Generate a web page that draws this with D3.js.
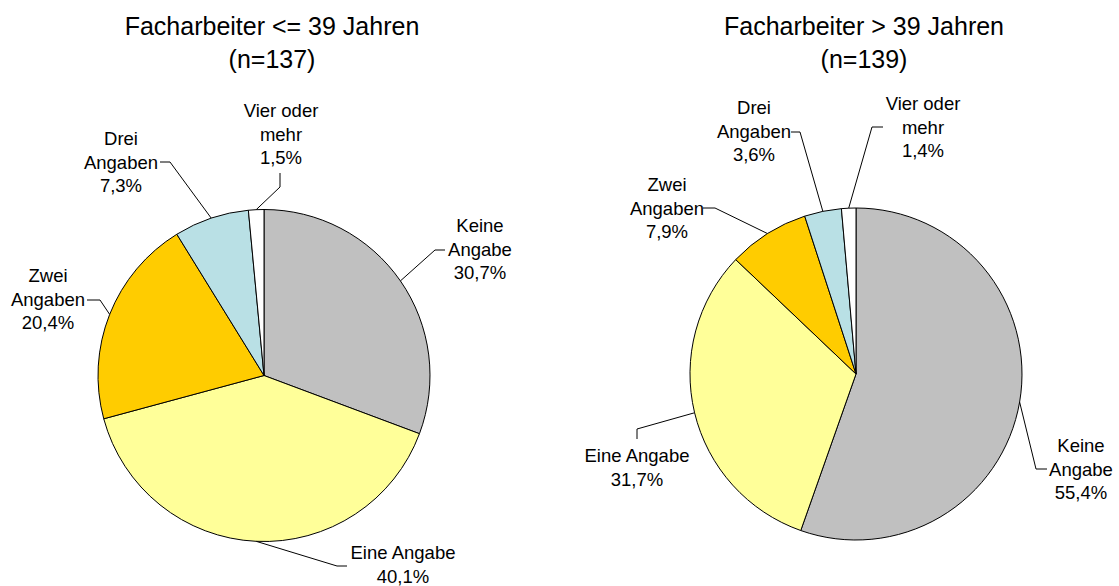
<!DOCTYPE html>
<html><head><meta charset="utf-8">
<script src="https://cdn.jsdelivr.net/npm/d3@7"></script>
<style>html,body{margin:0;padding:0;background:#fff;}svg{display:block;}</style>
</head><body>
<svg id="chart" width="1119" height="586"></svg>
<script>
// ---- data ----
const categories = ["Keine Angabe", "Eine Angabe", "Zwei Angaben", "Drei Angaben", "Vier oder mehr"];
const labelLines = [["Keine", "Angabe"], ["Eine Angabe"], ["Zwei", "Angaben"], ["Drei", "Angaben"], ["Vier oder", "mehr"]];
const labelLinesRight = [["Keine", "Angabe"], ["Eine Angabe"], ["Zwei", "Angaben"], ["Drei", "Angaben"], ["Vier oder", "mehr"]];
const valuesYoung = [30.7, 40.1, 20.4, 7.3, 1.5];
const valuesOld = [55.4, 31.7, 7.9, 3.6, 1.4];
const titlesYoung = ["Facharbeiter <= 39 Jahren", "(n=137)"];
const titlesOld = ["Facharbeiter > 39 Jahren", "(n=139)"];
const colors = ["#C0C0C0", "#FFFF99", "#FFCC00", "#B9E0E5", "#FFFFFF"];

// ---- layout (label text anchor: center x, first baseline y; elbow: leader bend point, end: leader end near text) ----
const layoutYoung = {
  cx: 264, cy: 375.5, r: 166, titleX: 272,
  labels: [
    {x: 480, y: 232, elbow: [435, 250], end: [445, 250]},
    {x: 403, y: 559, elbow: [337, 566], end: [347, 566]},
    {x: 48,  y: 282, elbow: [100, 300], end: [87, 300]},
    {x: 121, y: 145, elbow: [170, 162], end: [160, 162]},
    {x: 281, y: 117, elbow: [280, 187], end: [280, 173]}
  ]
};
const layoutOld = {
  cx: 856, cy: 374, r: 166, titleX: 864,
  labels: [
    {x: 1081, y: 452, elbow: [1036, 469], end: [1047, 469]},
    {x: 637,  y: 462, elbow: [637, 429], end: [637, 439]},
    {x: 667,  y: 191, elbow: [715, 208], end: [703, 208]},
    {x: 754,  y: 114, elbow: [800, 132], end: [791, 132]},
    {x: 923,  y: 110, elbow: [872, 127], end: [883, 127]}
  ]
};

const svg = d3.select("#chart");
const fontFamily = "'Liberation Sans', Arial, Helvetica, sans-serif";
const fmt = v => d3.format(".1f")(v).replace(".", ",") + "%";

function drawPie(values, lines, titles, L) {
  const g = svg.append("g");
  // title
  titles.forEach((t, i) => {
    g.append("text").attr("x", L.titleX).attr("y", 35 + i * 33)
      .attr("text-anchor", "middle").attr("font-family", fontFamily)
      .attr("font-size", "25px").attr("fill", "#000").text(t);
  });
  const pie = d3.pie().sort(null).value(d => d);
  const arcs = pie(values);
  const arc = d3.arc().innerRadius(0).outerRadius(L.r);
  const pg = g.append("g").attr("transform", `translate(${L.cx},${L.cy})`);
  pg.selectAll("path").data(arcs).join("path")
    .attr("d", arc)
    .attr("fill", (d, i) => colors[i])
    .attr("stroke", "#000").attr("stroke-width", 1);

  arcs.forEach((a, i) => {
    const lab = L.labels[i];
    const mid = (a.startAngle + a.endAngle) / 2;
    const px = L.cx + L.r * Math.sin(mid);
    const py = L.cy - L.r * Math.cos(mid);
    g.append("polyline")
      .attr("points", [[px, py], lab.elbow, lab.end].map(p => p.join(",")).join(" "))
      .attr("fill", "none").attr("stroke", "#000").attr("stroke-width", 1);
    const txt = lines[i].concat([fmt(values[i])]);
    txt.forEach((t, k) => {
      g.append("text").attr("x", lab.x).attr("y", lab.y + k * 23.5)
        .attr("text-anchor", "middle").attr("font-family", fontFamily)
        .attr("font-size", "18.5px").attr("fill", "#000").text(t);
    });
  });
}

drawPie(valuesYoung, labelLines, titlesYoung, layoutYoung);
drawPie(valuesOld, labelLinesRight, titlesOld, layoutOld);
</script>
</body></html>
